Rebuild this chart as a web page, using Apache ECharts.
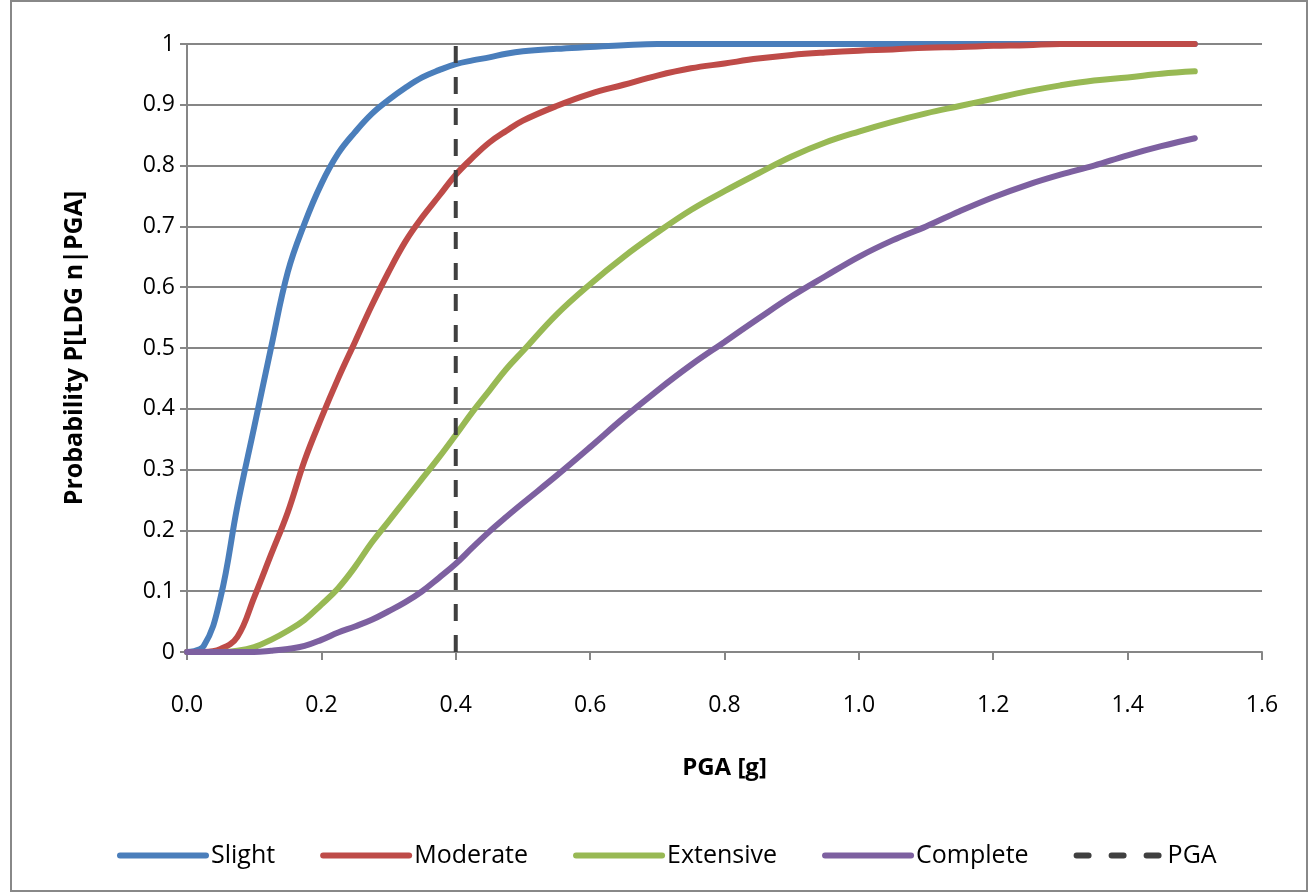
<!DOCTYPE html>
<html>
<head>
<meta charset="utf-8">
<script src="https://cdn.jsdelivr.net/npm/echarts@6/dist/echarts.min.js"></script>
<style>
  html, body { margin: 0; padding: 0; background: #fff; }
  #main { width: 1309px; height: 893px; }
</style>
</head>
<body>
<div id="main"></div>
<script>
// PGA values [g] shared by all curves
var pga = [0, 0.025, 0.05, 0.075, 0.1, 0.125, 0.15, 0.175, 0.2, 0.225, 0.25, 0.275, 0.3, 0.325, 0.35, 0.375, 0.4, 0.425, 0.45, 0.475, 0.5,
    0.55, 0.6, 0.65, 0.7, 0.75, 0.8, 0.85, 0.9, 0.95, 1.0, 1.05, 1.1, 1.15, 1.2, 1.25, 1.3, 1.35, 1.4, 1.45, 1.5];

var slight = [0, 0.01, 0.09, 0.24, 0.37, 0.5, 0.625, 0.705, 0.77, 0.82, 0.855, 0.885, 0.908, 0.928, 0.945, 0.957, 0.967, 0.973, 0.978, 0.984, 0.988,
    0.992, 0.995, 0.998, 1, 1, 1, 1, 1, 1, 1, 1, 1, 1, 1, 1, 1, 1, 1, 1, 1];
var moderate = [0, 0, 0.005, 0.025, 0.09, 0.16, 0.23, 0.315, 0.385, 0.45, 0.51, 0.57, 0.625, 0.675, 0.715, 0.75, 0.785, 0.813, 0.838, 0.857, 0.874,
    0.898, 0.918, 0.933, 0.948, 0.96, 0.968, 0.976, 0.982, 0.986, 0.989, 0.991, 0.994, 0.995, 0.997, 0.998, 1, 1, 1, 1, 1];
var extensive = [0, 0, 0, 0.002, 0.008, 0.02, 0.035, 0.053, 0.078, 0.105, 0.14, 0.18, 0.215, 0.25, 0.285, 0.32, 0.357, 0.395, 0.43, 0.465, 0.495,
    0.555, 0.605, 0.65, 0.69, 0.727, 0.758, 0.787, 0.815, 0.838, 0.856, 0.872, 0.886, 0.898, 0.91, 0.922, 0.932, 0.94, 0.945, 0.951, 0.955];
var complete = [0, 0, 0, 0, 0, 0.002, 0.005, 0.01, 0.02, 0.032, 0.042, 0.053, 0.067, 0.082, 0.1, 0.122, 0.145, 0.172, 0.198, 0.222, 0.245,
    0.29, 0.337, 0.385, 0.43, 0.472, 0.51, 0.548, 0.585, 0.618, 0.65, 0.677, 0.7, 0.725, 0.748, 0.768, 0.785, 0.8, 0.817, 0.832, 0.845];

// vertical reference line at the design PGA
var pgaLine = [[0.4, 0], [0.4, 1]];

var names = ['Slight', 'Moderate', 'Extensive', 'Complete', 'PGA'];
var colors = ['#4a7ebb', '#be4b48', '#98b954', '#7d60a0', '#404040'];

function pairs(ys) {
    return pga.map(function (x, i) { return [x, ys[i]]; });
}

var font = '"Open Sans", "Liberation Sans", sans-serif';

var myChart = echarts.init(document.getElementById('main'));
myChart.setOption({
    animation: false,
    backgroundColor: '#fff',
    textStyle: { fontFamily: font },
    grid: { left: 187, right: 47, top: 44, bottom: 241 },
    legend: {
        left: 112,
        top: 838,
        itemWidth: 86,
        itemHeight: 30,
        itemGap: 45,
        itemStyle: { opacity: 0 },
        lineStyle: { width: 6, cap: 'round' },
        textStyle: { fontSize: 25, color: '#000', fontFamily: font },
        data: names.map(function (n) {
            return n === 'PGA'
                ? { name: n, lineStyle: { width: 6, type: [12, 23], cap: 'round' } }
                : { name: n };
        })
    },
    xAxis: {
        type: 'value',
        min: 0,
        max: 1.6,
        interval: 0.2,
        name: 'PGA [g]',
        nameLocation: 'middle',
        nameGap: 104,
        nameTextStyle: { fontSize: 24, fontWeight: 'bold', color: '#000' },
        axisLine: { show: true, lineStyle: { color: '#868686', width: 2 } },
        axisTick: { show: true, length: 8, lineStyle: { color: '#868686', width: 2 } },
        axisLabel: {
            fontSize: 23, color: '#000', margin: 42,
            formatter: function (v) { return v.toFixed(1); }
        },
        splitLine: { show: false }
    },
    yAxis: {
        type: 'value',
        min: 0,
        max: 1,
        interval: 0.1,
        name: 'Probability P[LDG n|PGA]',
        nameLocation: 'middle',
        nameGap: 100,
        nameTextStyle: { fontSize: 25, fontWeight: 'bold', color: '#000' },
        axisLine: { show: true, lineStyle: { color: '#868686', width: 2 } },
        axisTick: { show: true, length: 7, lineStyle: { color: '#868686', width: 2 } },
        axisLabel: { fontSize: 23, color: '#000', margin: 12 },
        splitLine: { lineStyle: { color: '#868686', width: 2 } }
    },
    series: [
        { name: 'Slight', data: pairs(slight) },
        { name: 'Moderate', data: pairs(moderate) },
        { name: 'Extensive', data: pairs(extensive) },
        { name: 'Complete', data: pairs(complete) },
        { name: 'PGA', data: pgaLine, dashed: true }
    ].map(function (s, i) {
        return {
            name: s.name,
            type: 'line',
            data: s.data,
            symbol: 'none',
            smooth: s.dashed ? false : 0.4,
            color: colors[i],
            lineStyle: {
                color: colors[i],
                width: s.dashed ? 4 : 6,
                type: s.dashed ? [17, 14] : 'solid',
                cap: s.dashed ? 'butt' : 'round'
            },
            z: s.dashed ? 3 : 2
        };
    }),
    graphic: [{
        type: 'rect',
        shape: { x: 11, y: 1, width: 1296, height: 890 },
        style: { fill: 'none', stroke: '#888', lineWidth: 2 },
        silent: true
    }]
});
</script>
</body>
</html>
